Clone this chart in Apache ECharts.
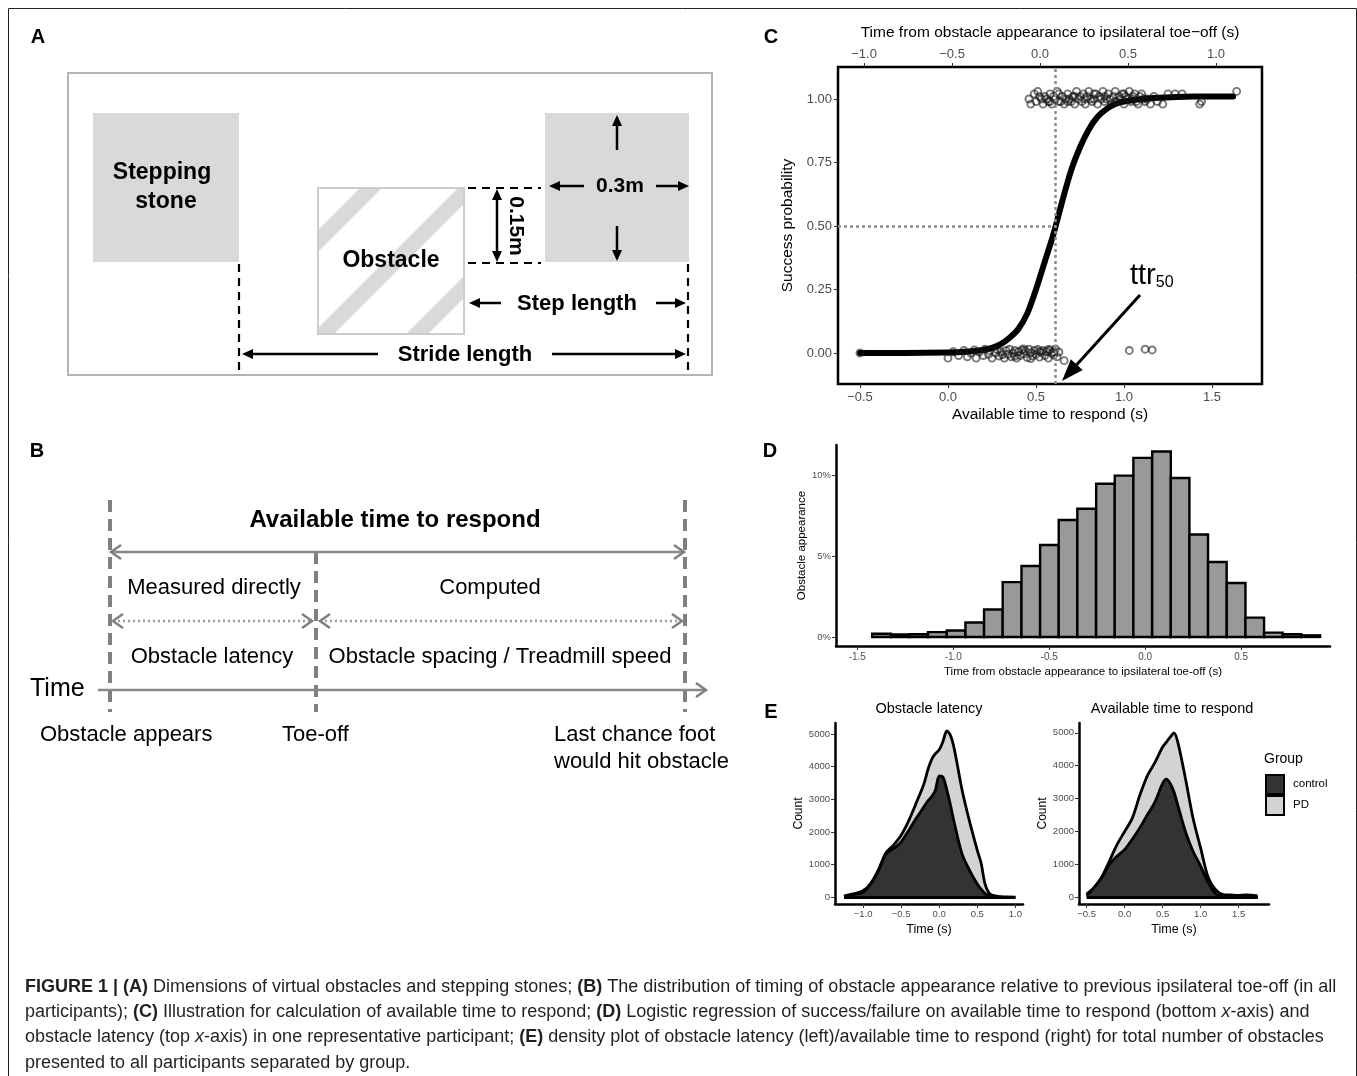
<!DOCTYPE html>
<html>
<head>
<meta charset="utf-8">
<script src="https://cdn.jsdelivr.net/npm/echarts@6/dist/echarts.min.js"></script>
<style>
html, body { margin: 0; background: #fff; }
#fig { width: 1357px; height: 1076px; }
</style>
</head>
<body>
<div id="fig"></div>
<script>
// ---- panel C: logistic fit and single trials ----
var fitX = [-0.5, -0.25, 0.0, 0.1, 0.2, 0.25, 0.3, 0.35, 0.4, 0.45, 0.5, 0.55, 0.6, 0.65, 0.7, 0.75, 0.8, 0.85, 0.9, 0.95, 1.0, 1.1, 1.2, 1.4, 1.62];
var fitP = [0.0, 0.0, 0.002, 0.005, 0.012, 0.02, 0.035, 0.06, 0.095, 0.155, 0.25, 0.36, 0.47, 0.6, 0.72, 0.81, 0.88, 0.93, 0.96, 0.98, 0.99, 1.0, 1.005, 1.01, 1.01];
var ttr50 = 0.61;
var successTrials = [
    [0.46, 1.0], [0.47, 0.98], [0.49, 1.02], [0.50, 0.99], [0.51, 1.03], [0.53, 1.0], [0.54, 0.98], [0.55, 1.01],
    [0.56, 1.0], [0.57, 0.99], [0.58, 1.02], [0.59, 0.98], [0.60, 1.01], [0.61, 1.0], [0.62, 1.03], [0.63, 0.99],
    [0.64, 0.99], [0.65, 1.01], [0.66, 0.98], [0.67, 1.0], [0.68, 1.02], [0.69, 1.0], [0.70, 0.99], [0.71, 1.01],
    [0.72, 0.98], [0.73, 1.03], [0.74, 1.0], [0.75, 1.01], [0.76, 0.99], [0.77, 1.02], [0.78, 0.98], [0.79, 1.01],
    [0.80, 1.03], [0.81, 1.0], [0.82, 0.99], [0.83, 1.0], [0.84, 1.02], [0.85, 0.98], [0.86, 1.01], [0.87, 1.0],
    [0.88, 1.03], [0.89, 0.99], [0.90, 1.0], [0.91, 1.02], [0.92, 1.0], [0.93, 0.98], [0.94, 1.01], [0.95, 1.03],
    [0.96, 0.99], [0.97, 1.01], [0.98, 1.0], [0.99, 1.02], [1.00, 0.98], [1.01, 1.01], [1.02, 1.0], [1.03, 1.03],
    [1.04, 0.99], [1.05, 1.0], [1.06, 1.02], [1.07, 0.99], [1.08, 0.98], [1.09, 1.01], [1.10, 1.02], [1.12, 0.99],
    [1.13, 1.0], [1.15, 0.98], [1.17, 1.01], [1.19, 0.99], [1.22, 0.98], [1.25, 1.02], [1.29, 1.02], [1.33, 1.02],
    [1.43, 0.98], [1.44, 0.99], [1.64, 1.03],
    [0.52, 1.01], [0.58, 0.99], [0.63, 1.02], [0.68, 0.99], [0.72, 1.01], [0.78, 1.0], [0.83, 1.02], [0.89, 1.01],
    [0.95, 0.99], [1.0, 1.02], [1.05, 1.01], [1.11, 1.0]
];
var failTrials = [
    [-0.5, 0.0], [0.0, -0.02], [0.03, 0.005], [0.06, -0.01], [0.09, 0.01], [0.11, -0.015], [0.13, 0.0], [0.15, 0.012],
    [0.16, -0.02], [0.18, 0.005], [0.2, -0.01], [0.21, 0.015], [0.23, -0.005], [0.24, 0.01], [0.25, -0.02], [0.27, 0.0],
    [0.28, 0.013], [0.29, -0.012], [0.3, 0.005], [0.32, -0.02], [0.33, 0.01], [0.34, -0.005], [0.35, 0.015], [0.36, -0.015],
    [0.37, 0.0], [0.38, 0.01], [0.39, -0.02], [0.4, 0.005], [0.41, -0.01], [0.42, 0.012], [0.43, -0.003], [0.44, 0.008],
    [0.45, -0.018], [0.46, 0.015], [0.47, 0.0], [0.48, -0.012], [0.49, 0.01], [0.5, -0.005], [0.51, 0.014], [0.52, -0.016],
    [0.53, 0.003], [0.54, 0.01], [0.55, -0.01], [0.56, 0.006], [0.57, -0.02], [0.58, 0.012], [0.59, 0.0], [0.6, -0.008],
    [0.61, 0.016], [0.62, -0.015], [0.63, 0.004], [0.66, -0.03], [1.03, 0.01], [1.12, 0.015], [1.16, 0.012],
    [0.31, -0.006], [0.38, -0.012], [0.43, 0.016], [0.47, -0.022], [0.52, 0.006], [0.57, 0.014], [0.6, 0.004]
];
var cBottomTicks = [-0.5, 0, 0.5, 1, 1.5];
var cTopTicks = [-1, -0.5, 0, 0.5, 1];
var cYTicks = [0, 0.25, 0.5, 0.75, 1];

// ---- panel D: histogram of obstacle appearance (%) ----
var binCenters = [-1.374, -1.277, -1.18, -1.083, -0.985, -0.888, -0.791, -0.694, -0.596, -0.499, -0.402, -0.305,
                  -0.207, -0.11, -0.013, 0.085, 0.182, 0.279, 0.376, 0.474, 0.571, 0.668, 0.765, 0.863];
var binWidth = 0.097;
var histPct = [0.2, 0.15, 0.17, 0.3, 0.4, 0.9, 1.7, 3.4, 4.4, 5.7, 7.25, 7.95,
               9.5, 10.0, 11.1, 11.5, 9.85, 6.35, 4.65, 3.35, 1.2, 0.27, 0.17, 0.1];
var dXTicks = [-1.5, -1, -0.5, 0, 0.5];
var dYTicks = [0, 5, 10];

// ---- panel E: density (counts) by group, PD stacked on control ----
var latX = [-1.25, -1.1, -1.0, -0.9, -0.8, -0.7, -0.6, -0.5, -0.4, -0.3, -0.2, -0.15, -0.1, -0.05, 0, 0.05, 0.1, 0.15, 0.2, 0.3, 0.4, 0.5, 0.55, 0.6, 0.65, 0.7, 0.8, 0.9, 1.0];
var latControl = [30, 100, 150, 400, 800, 1330, 1490, 1700, 2050, 2430, 2770, 2950, 3080, 3280, 3720, 3680, 3290, 2800, 2260, 1330, 820, 410, 250, 120, 50, 20, 5, 0, 0];
var latPD = [10, 20, 50, 20, 30, 30, 110, 200, 300, 470, 710, 950, 1140, 1120, 800, 1100, 1810, 2150, 2260, 1960, 1490, 1030, 800, 300, 100, 40, 15, 10, 5];
var atrX = [-0.5, -0.4, -0.3, -0.2, -0.1, 0, 0.1, 0.2, 0.3, 0.4, 0.5, 0.55, 0.6, 0.65, 0.7, 0.8, 0.9, 1.0, 1.1, 1.2, 1.3, 1.4, 1.5, 1.6, 1.75];
var atrControl = [50, 300, 600, 1000, 1250, 1450, 1760, 2110, 2510, 2900, 3460, 3590, 3460, 3200, 2800, 2000, 1400, 950, 450, 100, 20, 5, 0, 0, 0];
var atrPD = [50, 0, 20, 100, 350, 550, 640, 990, 1190, 1200, 1110, 1130, 1410, 1800, 1920, 1620, 1010, 550, 150, 120, 60, 65, 60, 70, 40];
var eLatTicks = [-1, -0.5, 0, 0.5, 1];
var eAtrTicks = [-0.5, 0, 0.5, 1, 1.5];
var eYTicks = [0, 1000, 2000, 3000, 4000, 5000];

var F = '"Liberation Sans", Arial, sans-serif';
var LABEL_GREY = '#4d4d4d';

function pairs(xs, ys) {
    return xs.map(function (x, i) { return [x, ys[i]]; });
}
// PD sits on top of control: the upper outline is control + PD
function stacked(xs, lower, upper) {
    return xs.map(function (x, i) { return [x, lower[i] + upper[i]]; });
}
function minusFmt(d) {
    return function (v) { return (v < 0 ? '\u2212' : '') + Math.abs(v).toFixed(d); };
}

// ---------- drawn diagram pieces (panels A, B, caption) ----------
var G = [];
function txt(x, y, s, size, opt) {
    opt = opt || {};
    G.push({
        type: 'text', x: x, y: y, rotation: opt.rot || 0, z: 10, silent: true,
        style: {
            text: s, fill: opt.color || '#000',
            font: (opt.italic ? 'italic ' : '') + (opt.bold ? 'bold ' : '') + size + 'px ' + F,
            align: opt.align || 'center', verticalAlign: 'middle',
            textAlign: opt.align || 'center', textVerticalAlign: 'middle',
            rich: opt.rich
        }
    });
}
function seg(x1, y1, x2, y2, color, w, dash) {
    G.push({ type: 'line', silent: true, z: 5, shape: { x1: x1, y1: y1, x2: x2, y2: y2 },
        style: { stroke: color, lineWidth: w, lineDash: dash || null } });
}
function box(x, y, w, h, fill, stroke, lw) {
    G.push({ type: 'rect', silent: true, z: 3, shape: { x: x, y: y, width: w, height: h },
        style: { fill: fill, stroke: stroke || null, lineWidth: lw || 0 } });
}
function arrow(x1, y1, x2, y2, lw, h, w) {
    lw = lw || 2.5; h = h || 11; w = w || 5;
    var dx = x2 - x1, dy = y2 - y1, L = Math.sqrt(dx * dx + dy * dy), ux = dx / L, uy = dy / L;
    seg(x1, y1, x2 - ux * h * 0.7, y2 - uy * h * 0.7, '#000', lw);
    G.push({ type: 'polygon', silent: true, z: 6,
        shape: { points: [[x2, y2], [x2 - ux * h - uy * w, y2 - uy * h + ux * w], [x2 - ux * h + uy * w, y2 - uy * h - ux * w]] },
        style: { fill: '#000' } });
}
function chevron(x, y, dir) {
    G.push({ type: 'polyline', silent: true, z: 5,
        shape: { points: [[x - dir * 10, y - 7], [x, y], [x - dir * 10, y + 7]] },
        style: { stroke: '#808080', lineWidth: 2.5, fill: null } });
}

// outer frame
G.push({ type: 'rect', silent: true, z: 1, shape: { x: 8.5, y: 8.5, width: 1348, height: 1090 },
    style: { fill: null, stroke: '#222', lineWidth: 1 } });

// panel letters
txt(38, 37, 'A', 20, { bold: true });
txt(37, 451, 'B', 20, { bold: true });
txt(771, 37, 'C', 20, { bold: true });
txt(770, 451, 'D', 20, { bold: true });
txt(771, 712, 'E', 20, { bold: true });

// ---- A ----
box(68, 73, 644, 302, '#fff', '#b3b3b3', 2);
box(93, 113, 146, 149, '#d9d9d9');
box(545, 113, 144, 149, '#d9d9d9');
var ox = 318, oy = 188;
[
    [[42, 0], [64, 0], [0, 64], [0, 42]],
    [[140, 0], [146, 0], [146, 16], [16, 146], [0, 146], [0, 140]],
    [[146, 88], [146, 110], [110, 146], [88, 146]]
].forEach(function (pts) {
    G.push({ type: 'polygon', silent: true, z: 3,
        shape: { points: pts.map(function (p) { return [ox + p[0], oy + p[1]]; }) },
        style: { fill: '#d9d9d9' } });
});
box(ox, oy, 146, 146, null, '#cccccc', 2);
txt(162, 173, 'Stepping', 23, { bold: true });
txt(166, 202, 'stone', 23, { bold: true });
txt(391, 261, 'Obstacle', 23, { bold: true });
seg(468, 188, 541, 188, '#000', 2.2, [8, 6]);
seg(468, 263, 541, 263, '#000', 2.2, [8, 6]);
arrow(497, 226, 497, 189);
arrow(497, 226, 497, 262);
txt(516, 226, '0.15m', 21, { bold: true, rot: -Math.PI / 2 });
txt(620, 186, '0.3m', 21, { bold: true });
arrow(584, 186, 549, 186);
arrow(656, 186, 689, 186);
arrow(617, 150, 617, 115);
arrow(617, 226, 617, 261);
seg(239, 264, 239, 372, '#000', 2.2, [8, 6]);
seg(688, 264, 688, 372, '#000', 2.2, [8, 6]);
txt(577, 304, 'Step length', 22, { bold: true });
arrow(501, 303, 469, 303);
arrow(656, 303, 686, 303);
txt(465, 355, 'Stride length', 22, { bold: true });
arrow(378, 354, 242, 354);
arrow(552, 354, 686, 354);

// ---- B ----
var BG = '#808080';
seg(110, 500, 110, 712, BG, 4, [12, 7]);
seg(316, 552, 316, 712, BG, 4, [12, 7]);
seg(685, 500, 685, 712, BG, 4, [12, 7]);
txt(395, 520, 'Available time to respond', 24, { bold: true });
seg(111, 552, 684, 552, '#888', 2.5);
chevron(111, 552, -1);
chevron(684, 552, 1);
txt(214, 588, 'Measured directly', 22);
txt(490, 588, 'Computed', 22);
seg(113, 621, 312, 621, '#999', 2.5, [2, 3]);
chevron(113, 621, -1);
chevron(312, 621, 1);
seg(320, 621, 682, 621, '#999', 2.5, [2, 3]);
chevron(320, 621, -1);
chevron(682, 621, 1);
txt(212, 657, 'Obstacle latency', 22);
txt(500, 657, 'Obstacle spacing / Treadmill speed', 22);
txt(30, 689, 'Time', 25, { align: 'left' });
seg(98, 690, 706, 690, '#888', 2.5);
chevron(706, 690, 1);
txt(40, 735, 'Obstacle appears', 22, { align: 'left' });
txt(282, 735, 'Toe-off', 22, { align: 'left' });
txt(554, 735, 'Last chance foot', 22, { align: 'left' });
txt(554, 762, 'would hit obstacle', 22, { align: 'left' });

// ---- C annotation ----
txt(1130, 276, '{a|ttr}{s|50}', 28, { align: 'left', rich: {
    a: { fontSize: 29, fontFamily: F, fill: '#000' },
    s: { fontSize: 16, fontFamily: F, fill: '#000', verticalAlign: 'bottom', padding: [10, 0, 0, 0] }
} });
arrow(1140, 295, 1062, 381, 3, 22, 8);

// ---- E titles and legend ----
txt(929, 709, 'Obstacle latency', 14.5);
txt(1172, 709, 'Available time to respond', 14.5);
txt(1264, 759, 'Group', 14, { align: 'left' });
box(1266, 775, 18, 19, '#333333', '#000', 2);
box(1266, 796, 18, 19, '#d3d3d3', '#000', 2);
txt(1293, 784, 'control', 11.5, { align: 'left' });
txt(1293, 805, 'PD', 11.5, { align: 'left' });

// ---- caption ----
var capRich = {
    r: { fontSize: 18, fontFamily: F, fill: '#231f20' },
    b: { fontSize: 18, fontFamily: F, fill: '#231f20', fontWeight: 'bold' },
    i: { fontSize: 18, fontFamily: F, fill: '#231f20', fontStyle: 'italic' }
};
var capLines = [
    '{b|FIGURE 1 | (A)}{r| Dimensions of virtual obstacles and stepping stones; }{b|(B)}{r| The distribution of timing of obstacle appearance relative to previous ipsilateral toe-off (in all}',
    '{r|participants); }{b|(C)}{r| Illustration for calculation of available time to respond; }{b|(D)}{r| Logistic regression of success/failure on available time to respond (bottom }{i|x}{r|-axis) and}',
    '{r|obstacle latency (top }{i|x}{r|-axis) in one representative participant; }{b|(E)}{r| density plot of obstacle latency (left)/available time to respond (right) for total number of obstacles}',
    '{r|presented to all participants separated by group.}'
];
[987, 1012, 1037, 1063].forEach(function (y, i) {
    txt(25, y, capLines[i], 18, { align: 'left', rich: capRich });
});

// ---------- charts ----------
function valAxis(grid, min, max, ticks, fmt, extra) {
    var ax = {
        type: 'value', gridIndex: grid, min: min, max: max,
        splitLine: { show: false },
        axisLine: { show: true, onZero: false, lineStyle: { color: '#000', width: 2.5 } },
        axisTick: { show: true, length: 4, customValues: ticks, lineStyle: { color: '#333', width: 1 } },
        axisLabel: { customValues: ticks, formatter: fmt, color: LABEL_GREY, fontFamily: F, fontSize: 10, margin: 6 },
        nameLocation: 'middle',
        nameTextStyle: { color: '#000', fontFamily: F, fontSize: 12 }
    };
    for (var k in extra) {
        if (typeof extra[k] === 'object' && ax[k]) { Object.assign(ax[k], extra[k]); } else { ax[k] = extra[k]; }
    }
    return ax;
}
function densitySeries(name, xi, yi, data, fill, z) {
    return {
        name: name, type: 'line', xAxisIndex: xi, yAxisIndex: yi,
        data: data, smooth: 0.3, symbol: 'none', z: z,
        lineStyle: { color: '#000', width: 2.8, join: 'round' }, areaStyle: { color: fill, opacity: 1 }
    };
}
function baseline(xs) {
    return {
        silent: true, symbol: 'none', label: { show: false },
        lineStyle: { color: '#000', width: 2.8, type: 'solid' },
        data: [[{ coord: [xs[0], 0] }, { coord: [xs[xs.length - 1], 0] }]]
    };
}

var myChart = echarts.init(document.getElementById('fig'));
var latControlSeries = densitySeries('control', 3, 2, pairs(latX, latControl), '#333333', 4);
latControlSeries.markLine = baseline(latX);
var atrControlSeries = densitySeries('control', 4, 3, pairs(atrX, atrControl), '#333333', 4);
atrControlSeries.markLine = baseline(atrX);

var option = {
    animation: false,
    backgroundColor: '#fff',
    graphic: { elements: G },
    grid: [
        { left: 838, top: 67, width: 424, height: 317, show: true, borderColor: '#000', borderWidth: 2.5 },
        { left: 836, top: 445, width: 494, height: 201 },
        { left: 835, top: 723, width: 188, height: 181 },
        { left: 1079, top: 723, width: 190, height: 181 }
    ],
    xAxis: [
        valAxis(0, -0.625, 1.784, cBottomTicks, minusFmt(1), {
            position: 'bottom', axisLine: { show: false },
            axisLabel: { fontSize: 13, margin: 7 },
            name: 'Available time to respond (s)', nameGap: 23, nameTextStyle: { fontSize: 15.5 }
        }),
        valAxis(0, -1.148, 1.261, cTopTicks, minusFmt(1), {
            position: 'top', axisLine: { show: false },
            axisLabel: { fontSize: 13, margin: 6 },
            name: 'Time from obstacle appearance to ipsilateral toe\u2212off (s)', nameGap: 26, nameTextStyle: { fontSize: 15.5 }
        }),
        valAxis(1, -1.611, 0.963, dXTicks, function (v) { return v.toFixed(1); }, {
            name: 'Time from obstacle appearance to ipsilateral toe-off (s)', nameGap: 20, nameTextStyle: { fontSize: 11.5 }
        }),
        valAxis(2, -1.368, 1.1, eLatTicks, minusFmt(1), {
            axisLabel: { fontSize: 9.5, margin: 5 },
            name: 'Time (s)', nameGap: 19, nameTextStyle: { fontSize: 12.5 }
        }),
        valAxis(3, -0.6, 1.9, eAtrTicks, minusFmt(1), {
            axisLabel: { fontSize: 9.5, margin: 5 },
            name: 'Time (s)', nameGap: 19, nameTextStyle: { fontSize: 12.5 }
        })
    ],
    yAxis: [
        valAxis(0, -0.122, 1.126, cYTicks, function (v) { return v.toFixed(2); }, {
            axisLine: { show: false },
            axisLabel: { fontSize: 13, margin: 6 },
            name: 'Success probability', nameGap: 42, nameTextStyle: { fontSize: 15.5 }
        }),
        valAxis(1, -0.56, 11.9, dYTicks, function (v) { return v + '%'; }, {
            axisLabel: { fontSize: 9.5, margin: 5 },
            name: 'Obstacle appearance', nameGap: 27, nameTextStyle: { fontSize: 11.5 }
        }),
        valAxis(2, -205, 5340, eYTicks, function (v) { return String(v); }, {
            axisLabel: { fontSize: 9.5, margin: 5 },
            name: 'Count', nameGap: 30, nameTextStyle: { fontSize: 12 }
        }),
        valAxis(3, -205, 5300, eYTicks, function (v) { return String(v); }, {
            axisLabel: { fontSize: 9.5, margin: 5 },
            name: 'Count', nameGap: 30, nameTextStyle: { fontSize: 12 }
        })
    ],
    series: [
        {
            name: 'fit', type: 'line', xAxisIndex: 0, yAxisIndex: 0,
            data: pairs(fitX, fitP), smooth: 0.25, symbol: 'none',
            lineStyle: { color: '#000', width: 6, cap: 'round', join: 'round' }, z: 3,
            markLine: {
                silent: true, symbol: 'none', label: { show: false },
                lineStyle: { color: '#8c8c8c', width: 2.5, type: [3, 3] },
                data: [
                    [{ coord: [-0.625, 0.5] }, { coord: [ttr50, 0.5] }],
                    [{ coord: [ttr50, -0.122] }, { coord: [ttr50, 1.126] }]
                ]
            }
        },
        {
            name: 'success', type: 'scatter', xAxisIndex: 0, yAxisIndex: 0, data: successTrials,
            symbol: 'circle', symbolSize: 7, z: 4,
            itemStyle: { color: 'rgba(0,0,0,0)', borderColor: 'rgba(20,20,20,0.72)', borderWidth: 1.9 }
        },
        {
            name: 'failure', type: 'scatter', xAxisIndex: 0, yAxisIndex: 0, data: failTrials,
            symbol: 'circle', symbolSize: 7, z: 4,
            itemStyle: { color: 'rgba(0,0,0,0)', borderColor: 'rgba(20,20,20,0.72)', borderWidth: 1.9 }
        },
        {
            name: 'appearance', type: 'custom', xAxisIndex: 2, yAxisIndex: 1,
            data: pairs(binCenters, histPct),
            renderItem: function (params, api) {
                var c = api.value(0), v = api.value(1);
                var p0 = api.coord([c - binWidth / 2, v]);
                var p1 = api.coord([c + binWidth / 2, 0]);
                return {
                    type: 'rect',
                    shape: { x: p0[0], y: p0[1], width: p1[0] - p0[0], height: p1[1] - p0[1] },
                    style: { fill: '#999999', stroke: '#000', lineWidth: 2.4 }
                };
            }
        },
        densitySeries('PD', 3, 2, stacked(latX, latControl, latPD), '#d3d3d3', 2),
        latControlSeries,
        densitySeries('PD', 4, 3, stacked(atrX, atrControl, atrPD), '#d3d3d3', 2),
        atrControlSeries
    ]
};
myChart.setOption(option);
</script>
</body>
</html>
